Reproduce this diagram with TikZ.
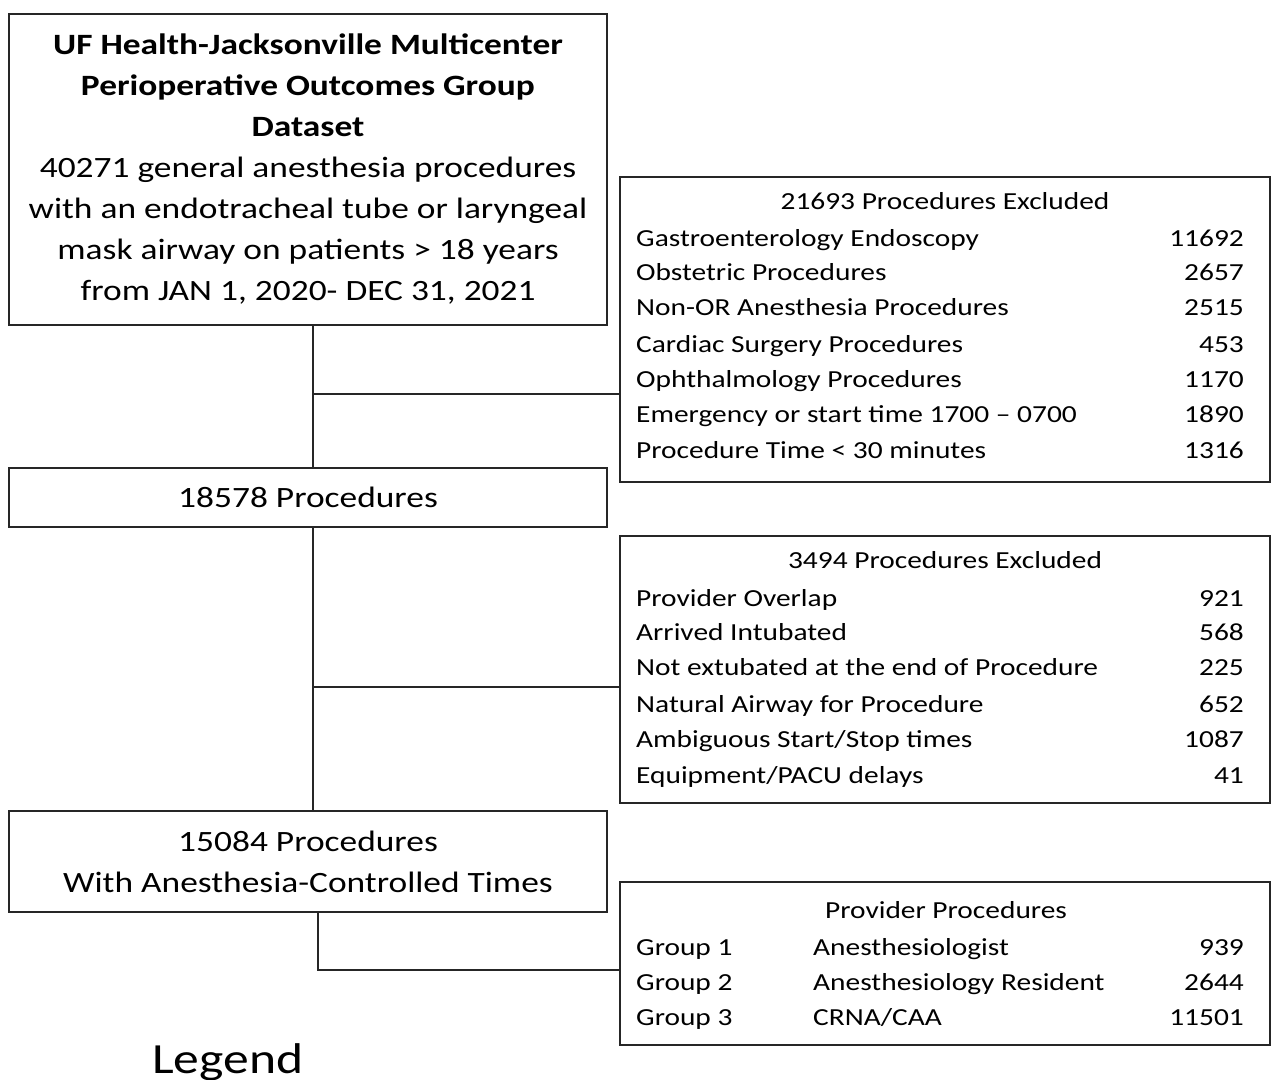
\documentclass[tikz,border=0pt]{standalone}
\usepackage{fontspec}
\setmainfont{Carlito}[FakeStretch=1.2]
\begin{document}
\begin{tikzpicture}[x=1pt,y=-1pt,
  box/.style={draw=black!85,line width=2pt,inner sep=0pt},
  conn/.style={draw=black!85,line width=1.8pt},
  row/.style={anchor=mid west,inner sep=0pt,font=\fontsize{24.5}{28}\selectfont},
  num/.style={anchor=mid east,inner sep=0pt,font=\fontsize{24.5}{28}\selectfont},
  ttl/.style={anchor=mid,inner sep=0pt,font=\fontsize{24.5}{28}\selectfont}]
\useasboundingbox[fill=white] (0,0) rectangle (1274,1079);
% left column boxes
\node[box,minimum width=598pt,minimum height=311pt,align=center,
  font=\fontsize{29.5}{41}\selectfont] (top) at (308,169)
  {\textbf{UF Health-Jacksonville Multicenter}\\
   \textbf{Perioperative Outcomes Group}\\
   \textbf{Dataset}\\
   40271 general anesthesia procedures\\
   with an endotracheal tube or laryngeal\\
   mask airway on patients > 18 years\\
   from JAN 1, 2020- DEC 31, 2021};
\node[box,minimum width=598pt,minimum height=59pt,
  font=\fontsize{29.5}{41}\selectfont] (p1) at (308,497.5) {18578 Procedures};
\node[box,minimum width=598pt,minimum height=101pt,align=center,
  font=\fontsize{29.5}{41}\selectfont] (p2) at (308,861.5)
  {15084 Procedures\\With Anesthesia-Controlled Times};
% right column boxes
\node[box,minimum width=650pt,minimum height=305pt] (ex1) at (945,329.5) {};
\node[box,minimum width=650pt,minimum height=267pt] (ex2) at (945,669.5) {};
\node[box,minimum width=650pt,minimum height=163pt] (grp) at (945,963.5) {};
% box 1 contents
\node[ttl] (ex1t) at (945,207) {21693 Procedures Excluded};
\node[row] (a1) at (636,244) {Gastroenterology Endoscopy};
\node[row] (a2) at (636,278) {Obstetric Procedures};
\node[row] (a3) at (636,313) {Non-OR Anesthesia Procedures};
\node[row] (a4) at (636,350) {Cardiac Surgery Procedures};
\node[row] (a5) at (636,385) {Ophthalmology Procedures};
\node[row] (a6) at (636,420) {Emergency or start time 1700 -- 0700};
\node[row] (a7) at (636,456) {Procedure Time < 30 minutes};
\node[num] (n1) at (1244,244) {11692};
\node[num] (n2) at (1244,278) {2657};
\node[num] (n3) at (1244,313) {2515};
\node[num] (n4) at (1244,350) {453};
\node[num] (n5) at (1244,385) {1170};
\node[num] (n6) at (1244,420) {1890};
\node[num] (n7) at (1244,456) {1316};
% box 2 contents
\node[ttl] (ex2t) at (945,566) {3494 Procedures Excluded};
\node[row] (b1) at (636,604) {Provider Overlap};
\node[row] (b2) at (636,638) {Arrived Intubated};
\node[row] (b3) at (636,673) {Not extubated at the end of Procedure};
\node[row] (b4) at (636,710) {Natural Airway for Procedure};
\node[row] (b5) at (636,745) {Ambiguous Start/Stop times};
\node[row] (b6) at (636,781) {Equipment/PACU delays};
\node[num] (m1) at (1244,604) {921};
\node[num] (m2) at (1244,638) {568};
\node[num] (m3) at (1244,673) {225};
\node[num] (m4) at (1244,710) {652};
\node[num] (m5) at (1244,745) {1087};
\node[num] (m6) at (1244,781) {41};
% box 3 contents
\node[ttl] (grpt) at (946,916) {Provider Procedures};
\node[row] (g1) at (636,953) {Group 1};
\node[row] (g2) at (636,988) {Group 2};
\node[row] (g3) at (636,1023) {Group 3};
\node[row] (h1) at (813,953) {Anesthesiologist};
\node[row] (h2) at (813,988) {Anesthesiology Resident};
\node[row] (h3) at (813,1023) {CRNA/CAA};
\node[num] (k1) at (1244,953) {939};
\node[num] (k2) at (1244,988) {2644};
\node[num] (k3) at (1244,1023) {11501};
% legend
\node[anchor=base west,inner sep=0pt,font=\fontsize{43}{50}\selectfont] (leg) at (152,1073) {Legend};
% connectors
\coordinate (j1) at (313,394);
\coordinate (j2) at (313,687);
\coordinate (j3) at (318,970);
\draw[conn] (top.south -| j1) -- (p1.north -| j1);
\draw[conn] (j1) -- (ex1.west |- j1);
\draw[conn] (p1.south -| j2) -- (p2.north -| j2);
\draw[conn] (j2) -- (ex2.west |- j2);
\draw[conn] (p2.south -| j3) -- (j3) -- (grp.west |- j3);
\end{tikzpicture}
\end{document}
